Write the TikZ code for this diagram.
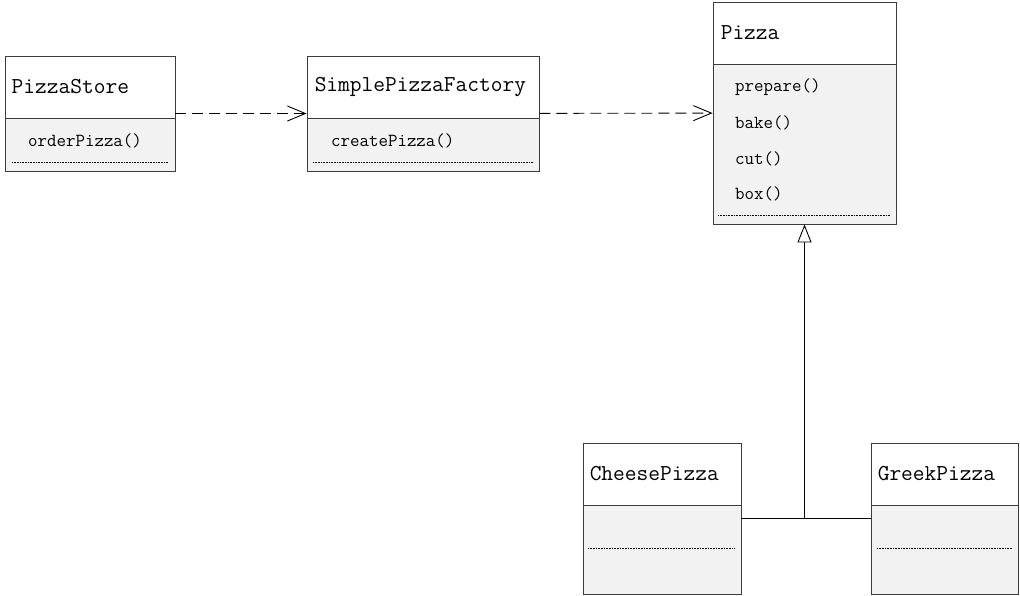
\documentclass[tikz,border=0pt]{standalone}
\usepackage{fontspec}
\usepackage{tikz}
\usetikzlibrary{arrows.meta, positioning}
\definecolor{bodygray}{HTML}{F2F2F2}
\definecolor{edgegray}{HTML}{3C3C3C}
\tikzset{
  classbox/.style={draw=edgegray, fill=bodygray, line width=0.9pt, inner sep=0pt},
  headbox/.style={draw=edgegray, fill=white, line width=0.9pt, inner sep=0pt, anchor=north},
  title/.style={font=\ttfamily\fontsize{22.8}{24}\selectfont, inner sep=0pt, anchor=west},
  method/.style={font=\ttfamily\fontsize{18.4}{20}\selectfont, inner sep=0pt, anchor=west},
  dots/.style={line width=0.9pt, dash pattern=on 1pt off 0.6pt},
  dep/.style={dash pattern=on 11pt off 6pt, line width=0.9pt, -{Straight Barb[length=18pt, width=15pt, line width=0.9pt]}},
  inherit/.style={line width=0.9pt, -{Triangle[open, length=18pt, width=14pt, fill=white, line width=0.9pt]}}
}

\begin{document}
\begin{tikzpicture}[x=1pt, y=-1pt]
\useasboundingbox (0,0) rectangle (1020,595);

\node[classbox, minimum width=170pt, minimum height=115pt] (store) at (90,113.5) {};
\node[headbox, minimum width=170pt, minimum height=62pt] (storeHead) at (store.north) {};
\node[title, right=7pt of storeHead.west] (storeName) {PizzaStore};
\node[method] (orderPizza) at (28,141) {orderPizza()};
\draw[dots] (12,162) -- (168,162);

\node[classbox, minimum width=232pt, minimum height=115pt] (factory) at (423,113.5) {};
\node[headbox, minimum width=232pt, minimum height=62pt] (factoryHead) at (factory.north) {};
\node[title, right=8pt of factoryHead.west] (factoryName) {SimplePizzaFactory};
\node[method] (createPizza) at (331,141) {createPizza()};
\draw[dots] (313,162) -- (533,162);

\node[classbox, minimum width=183pt, minimum height=222pt] (pizza) at (804.5,113) {};
\node[headbox, minimum width=183pt, minimum height=62pt] (pizzaHead) at (pizza.north) {};
\node[title, right=8pt of pizzaHead.west] (pizzaName) {Pizza};
\node[method] (prepare) at (735,87) {prepare()};
\node[method] (bake) at (735,123) {bake()};
\node[method] (cut) at (735,159) {cut()};
\node[method] (box) at (735,194) {box()};
\draw[dots] (718,215) -- (890,215);

\node[classbox, minimum width=158pt, minimum height=151pt] (cheese) at (662,518.5) {};
\node[headbox, minimum width=158pt, minimum height=62pt] (cheeseHead) at (cheese.north) {};
\node[title, right=7pt of cheeseHead.west] (cheeseName) {CheesePizza};
\draw[dots] (588,548) -- (735,548);

\node[classbox, minimum width=147pt, minimum height=151pt] (greek) at (944.5,518.5) {};
\node[headbox, minimum width=147pt, minimum height=62pt] (greekHead) at (greek.north) {};
\node[title, right=7pt of greekHead.west] (greekName) {GreekPizza};
\draw[dots] (877,548) -- (1012,548);

\draw[dep] (store) -- (factory);
\draw[dep] (factory) -- (pizza);
\coordinate (join) at (pizza.south |- cheese.east);
\draw[line width=0.9pt] (cheese) -- (greek);
\draw[inherit] (join) -- (pizza.south);
\end{tikzpicture}
\end{document}
